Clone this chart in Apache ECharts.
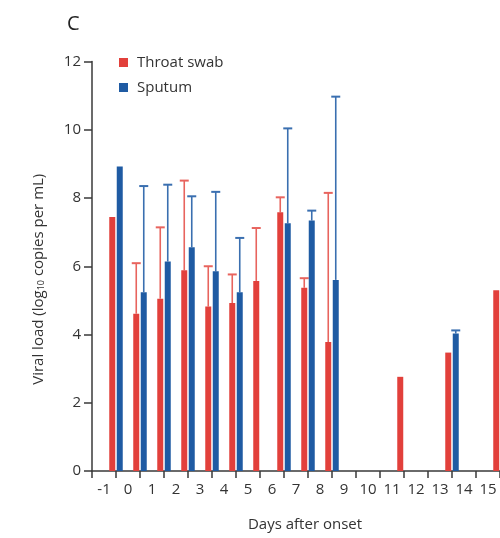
<!DOCTYPE html>
<html>
<head>
<meta charset="utf-8">
<script src="https://cdn.jsdelivr.net/npm/echarts@6/dist/echarts.min.js"></script>
<style>
html,body{margin:0;padding:0;background:#fff;}
#chart{width:500px;height:538px;}
</style>
</head>
<body>
<div id="chart"></div>
<script>
// ---- data ----
var days = ['-1','0','1','2','3','4','5','6','7','8','9','10','11','12','13','14','15'];
var throatSwab     = [7.44, 4.61, 5.05, 5.88, 4.82, 4.92, 5.57, 7.58, 5.37, 3.78, null, null, 2.76, null, 3.47, null, 5.30];
var throatSwabHigh = [null, 6.09, 7.14, 8.51, 6.00, 5.76, 7.12, 8.02, 5.65, 8.15, null, null, null, null, null, null, null];
var sputum         = [8.92, 5.24, 6.14, 6.56, 5.85, 5.24, null, 7.26, 7.34, 5.60, null, null, null, null, 4.03, null, null];
var sputumHigh     = [null, 8.35, 8.39, 8.05, 8.18, 6.83, null, 10.04, 7.63, 10.97, null, null, null, null, 4.12, null, null];
var yTicks = [0, 2, 4, 6, 8, 10, 12];

// data axis: positions on the tick boundaries of the label axis
var dataCats = ['-2'].concat(days);

function pairs(vals) {
  var out = [];
  for (var i = 0; i < days.length; i++) if (vals[i] != null) out.push([days[i], vals[i]]);
  return out;
}
function errPairs(vals, highs) {
  var out = [];
  for (var i = 0; i < days.length; i++) if (vals[i] != null && highs[i] != null) out.push([days[i], vals[i], highs[i]]);
  return out;
}

var RED = '#e2403b', BLUE = '#1f5ba3';
var RED_ERR = '#e8645e', BLUE_ERR = '#3a6fb0';
var BAR_W = 6, BAR_GAP = 1.5;
var AXIS_C = '#3a3a3a';

function errRender(offset, color) {
  return function (params, api) {
    var lo = api.coord([api.value(0), api.value(1)]);
    var hi = api.coord([api.value(0), api.value(2)]);
    var x = lo[0] + offset;
    var cap = 4.5;
    return {
      type: 'group',
      children: [
        {type: 'line', shape: {x1: x, y1: lo[1], x2: x, y2: hi[1]}, style: {stroke: color, lineWidth: 1.6}},
        {type: 'line', shape: {x1: x - cap, y1: hi[1], x2: x + cap, y2: hi[1]}, style: {stroke: color, lineWidth: 2}}
      ]
    };
  };
}

var FONT = 'Open Sans';
var chart = echarts.init(document.getElementById('chart'), null, {renderer: 'canvas'});
chart.setOption({
  animation: false,
  backgroundColor: '#fff',
  title: {
    text: 'C', left: 62, top: 9,
    textStyle: {fontFamily: FONT, fontSize: 20, fontWeight: 'normal', color: '#222'}
  },
  legend: {
    data: ['Throat swab', 'Sputum'],
    orient: 'vertical', left: 114, top: 49,
    icon: 'rect', itemWidth: 9, itemHeight: 9, itemGap: 8,
    textStyle: {fontFamily: FONT, fontSize: 15, color: '#333', padding: [0, 0, 0, 4], lineHeight: 17}
  },
  grid: {left: 92, top: 61.5, width: 409.5, height: 409.5, containLabel: false},
  xAxis: [
    {
      type: 'category', data: days, boundaryGap: true, position: 'bottom', show: true,
      axisLine: {show: true, onZero: false, lineStyle: {color: AXIS_C, width: 1.5}},
      axisTick: {show: true, length: 7, interval: 0, lineStyle: {color: AXIS_C, width: 1.5}},
      axisLabel: {show: true, fontFamily: FONT, fontSize: 15, color: '#333', margin: 11, interval: 0},
      name: 'Days after onset', nameLocation: 'middle', nameGap: 46,
      nameTextStyle: {fontFamily: FONT, fontSize: 15, color: '#333', padding: [0, 0, 0, 18]},
      splitLine: {show: false}
    },
    {
      type: 'category', data: dataCats, boundaryGap: false, position: 'bottom', show: false
    }
  ],
  yAxis: {
    type: 'value', min: 0, max: 12, interval: 2, show: true,
    axisLine: {show: true, onZero: false, lineStyle: {color: AXIS_C, width: 1.5}},
    axisTick: {show: true, length: 8, lineStyle: {color: AXIS_C, width: 1.5}},
    axisLabel: {fontFamily: FONT, fontSize: 15, color: '#333', margin: 11},
    splitLine: {show: false},
    name: '{a|Viral load (log}{s|10}{a| copies per mL)}',
    nameLocation: 'middle', nameGap: 46,
    nameTextStyle: {
      fontFamily: FONT, fontSize: 15, color: '#333', padding: [0, 26, 0, 0],
      rich: {
        a: {fontFamily: FONT, fontSize: 15, color: '#333'},
        s: {fontFamily: FONT, fontSize: 9, color: '#333', verticalAlign: 'bottom', padding: [6, 0, 0, 0]}
      }
    }
  },
  series: [
    {
      name: 'Throat swab', type: 'bar', xAxisIndex: 1, data: pairs(throatSwab),
      barWidth: BAR_W, barGap: (BAR_GAP / BAR_W * 100) + '%',
      itemStyle: {color: RED}
    },
    {
      name: 'Sputum', type: 'bar', xAxisIndex: 1, data: pairs(sputum),
      barWidth: BAR_W, barGap: (BAR_GAP / BAR_W * 100) + '%',
      itemStyle: {color: BLUE}
    },
    {
      name: 'Throat swab err', type: 'custom', xAxisIndex: 1, clip: false,
      data: errPairs(throatSwab, throatSwabHigh), encode: {x: 0, y: [1, 2]},
      renderItem: errRender(-(BAR_W + BAR_GAP) / 2, RED_ERR), z: 1
    },
    {
      name: 'Sputum err', type: 'custom', xAxisIndex: 1, clip: false,
      data: errPairs(sputum, sputumHigh), encode: {x: 0, y: [1, 2]},
      renderItem: errRender((BAR_W + BAR_GAP) / 2, BLUE_ERR), z: 1
    }
  ]
});
</script>
</body>
</html>
